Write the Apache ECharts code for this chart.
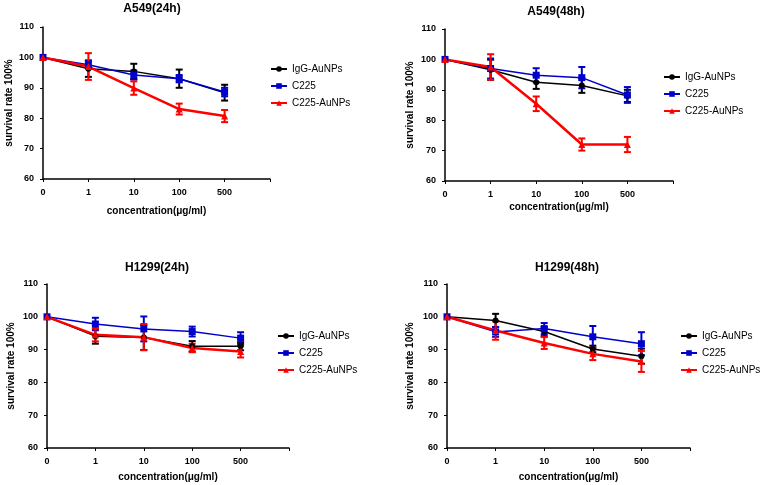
<!DOCTYPE html>
<html>
<head>
<meta charset="utf-8">
<script src="https://cdn.jsdelivr.net/npm/echarts@6/dist/echarts.min.js"></script>
<style>
  html, body { margin: 0; padding: 0; background: #fff; }
  #main { width: 766px; height: 485px; }
</style>
</head>
<body>
<div id="main"></div>
<script>
// x轴类目 (最后一个空类目只用来延长轴线)
var categories = ['0', '1', '10', '100', '500', ''];
var seriesNames = ['IgG-AuNPs', 'C225', 'C225-AuNPs'];
var panelTitles = ['A549(24h)', 'A549(48h)', 'H1299(24h)', 'H1299(48h)'];
var yMin = 60, yMax = 110, yStep = 10;

// A549 24h
var a549_24_igg = [100, 96.3, 95.4, 93.0, 88.4];
var a549_24_igg_err = [0, 2.7, 2.5, 3.0, 2.6];
var a549_24_c225 = [100, 97.6, 94.2, 93.0, 88.6];
var a549_24_c225_err = [0, 1.3, 1.5, 1.2, 1.4];
var a549_24_np = [100, 97.0, 89.9, 83.0, 80.7];
var a549_24_np_err = [0, 4.4, 2.2, 1.8, 2.0];

// A549 48h
var a549_48_igg = [100, 96.6, 92.5, 91.4, 88.0];
var a549_48_igg_err = [0, 3.3, 2.2, 2.4, 2.0];
var a549_48_c225 = [100, 97.0, 94.8, 94.0, 88.3];
var a549_48_c225_err = [0, 3.3, 2.3, 3.5, 2.6];
var a549_48_np = [100, 97.5, 85.4, 72.0, 72.0];
var a549_48_np_err = [0, 4.2, 2.4, 2.0, 2.5];

// H1299 24h
var h1299_24_igg = [100, 94.1, 93.7, 91.0, 91.0];
var h1299_24_igg_err = [0, 2.3, 3.8, 1.6, 1.2];
var h1299_24_c225 = [100, 97.8, 96.3, 95.5, 93.5];
var h1299_24_c225_err = [0, 1.9, 3.8, 1.5, 1.8];
var h1299_24_np = [100, 94.5, 93.8, 90.5, 89.4];
var h1299_24_np_err = [0, 2.0, 4.0, 1.3, 1.8];

// H1299 48h
var h1299_48_igg = [100, 98.9, 95.5, 90.2, 88.0];
var h1299_48_igg_err = [0, 2.0, 1.4, 1.0, 2.3];
var h1299_48_c225 = [100, 95.4, 96.4, 93.9, 91.8];
var h1299_48_c225_err = [0, 1.5, 1.7, 3.3, 3.5];
var h1299_48_np = [100, 95.8, 92.0, 88.7, 86.4];
var h1299_48_np_err = [0, 2.8, 1.8, 1.9, 3.2];

var panelData = [
  [[a549_24_igg, a549_24_igg_err], [a549_24_c225, a549_24_c225_err], [a549_24_np, a549_24_np_err]],
  [[a549_48_igg, a549_48_igg_err], [a549_48_c225, a549_48_c225_err], [a549_48_np, a549_48_np_err]],
  [[h1299_24_igg, h1299_24_igg_err], [h1299_24_c225, h1299_24_c225_err], [h1299_24_np, h1299_24_np_err]],
  [[h1299_48_igg, h1299_48_igg_err], [h1299_48_c225, h1299_48_c225_err], [h1299_48_np, h1299_48_np_err]]
];

var colors = ['#000000', '#0000CC', '#FF0000'];
var symbols = ['circle', 'rect', 'triangle'];
var symbolSizes = [6, 7, 7];
var lineWidths = [1.5, 1.5, 2.5];

var FONT = '"Liberation Sans", Arial, sans-serif';

// 每个面板的位置
var grids = [
  { left: 43, top: 27, width: 227, height: 152 },
  { left: 445, top: 29, width: 228, height: 152 },
  { left: 47, top: 284, width: 242, height: 164 },
  { left: 447, top: 284, width: 243, height: 164 }
];
var titlePos = [[152, 3], [556, 6], [157, 262], [567, 262]];
var legendPos = [[270, 64], [663, 72], [277, 331], [680, 331]];
var xNameGap = [27, 21, 24, 24];
var yNameGap = [29, 30, 31, 32];

var chart = echarts.init(document.getElementById('main'));

function errorSeries(values, errs, color, idx, name) {
  var data = [];
  for (var i = 0; i < values.length; i++) {
    if (errs[i] > 0) data.push([i, values[i] - errs[i], values[i] + errs[i]]);
  }
  return {
    name: name + ' err',
    type: 'custom',
    xAxisIndex: idx,
    yAxisIndex: idx,
    z: 3,
    silent: true,
    encode: { x: 0, y: [1, 2] },
    data: data,
    renderItem: function (params, api) {
      var x = api.value(0);
      var lo = api.coord([x, api.value(1)]);
      var hi = api.coord([x, api.value(2)]);
      var w = 3.5;
      var style = { stroke: color, lineWidth: 2 };
      return {
        type: 'group',
        children: [
          { type: 'line', shape: { x1: hi[0], y1: hi[1], x2: lo[0], y2: lo[1] }, style: style },
          { type: 'line', shape: { x1: hi[0] - w, y1: hi[1], x2: hi[0] + w, y2: hi[1] }, style: style },
          { type: 'line', shape: { x1: lo[0] - w, y1: lo[1], x2: lo[0] + w, y2: lo[1] }, style: style }
        ]
      };
    }
  };
}

var option = {
  animation: false,
  backgroundColor: '#fff',
  textStyle: { fontFamily: FONT },
  title: [],
  legend: [],
  grid: [],
  xAxis: [],
  yAxis: [],
  series: []
};

for (var p = 0; p < 4; p++) {
  option.title.push({
    text: panelTitles[p],
    left: titlePos[p][0],
    top: titlePos[p][1],
    textAlign: 'center',
    padding: 0,
    textStyle: { fontFamily: FONT, fontSize: 12, fontWeight: 'bold', color: '#000' }
  });
  option.legend.push({
    data: seriesNames,
    orient: 'vertical',
    left: legendPos[p][0],
    top: legendPos[p][1],
    padding: 0,
    itemWidth: 16,
    itemHeight: 7,
    itemGap: 7,
    selectedMode: false,
    textStyle: { fontFamily: FONT, fontSize: 10, color: '#000' }
  });
  option.grid.push(grids[p]);
  option.xAxis.push({
    gridIndex: p,
    type: 'category',
    boundaryGap: false,
    data: categories,
    name: 'concentration(μg/ml)',
    nameLocation: 'middle',
    nameGap: xNameGap[p],
    nameTextStyle: { fontFamily: FONT, fontSize: 10, fontWeight: 'bold', color: '#000' },
    axisLine: { lineStyle: { color: '#000', width: 1.5 } },
    axisTick: { show: true, alignWithLabel: true, interval: 0, length: 3, lineStyle: { color: '#000' } },
    axisLabel: { interval: 0, margin: 9, fontFamily: FONT, fontSize: 9, fontWeight: 'bold', color: '#000' },
    splitLine: { show: false }
  });
  option.yAxis.push({
    gridIndex: p,
    type: 'value',
    min: yMin,
    max: yMax,
    interval: yStep,
    name: 'survival rate 100%',
    nameLocation: 'middle',
    nameRotate: 90,
    nameGap: yNameGap[p],
    nameTextStyle: { fontFamily: FONT, fontSize: 10, fontWeight: 'bold', color: '#000' },
    axisLine: { show: true, lineStyle: { color: '#000', width: 1.5 } },
    axisTick: { show: true, length: 3, lineStyle: { color: '#000' } },
    axisLabel: { margin: 9, fontFamily: FONT, fontSize: 9, fontWeight: 'bold', color: '#000' },
    splitLine: { show: false }
  });
  for (var s = 0; s < 3; s++) {
    var vals = panelData[p][s][0];
    var errs = panelData[p][s][1];
    option.series.push(errorSeries(vals, errs, colors[s], p, seriesNames[s]));
    option.series.push({
      name: seriesNames[s],
      type: 'line',
      xAxisIndex: p,
      yAxisIndex: p,
      z: 4,
      data: vals,
      symbol: symbols[s],
      symbolSize: symbolSizes[s],
      showAllSymbol: true,
      itemStyle: { color: colors[s] },
      lineStyle: { color: colors[s], width: lineWidths[s] }
    });
  }
}

chart.setOption(option);
</script>
</body>
</html>
